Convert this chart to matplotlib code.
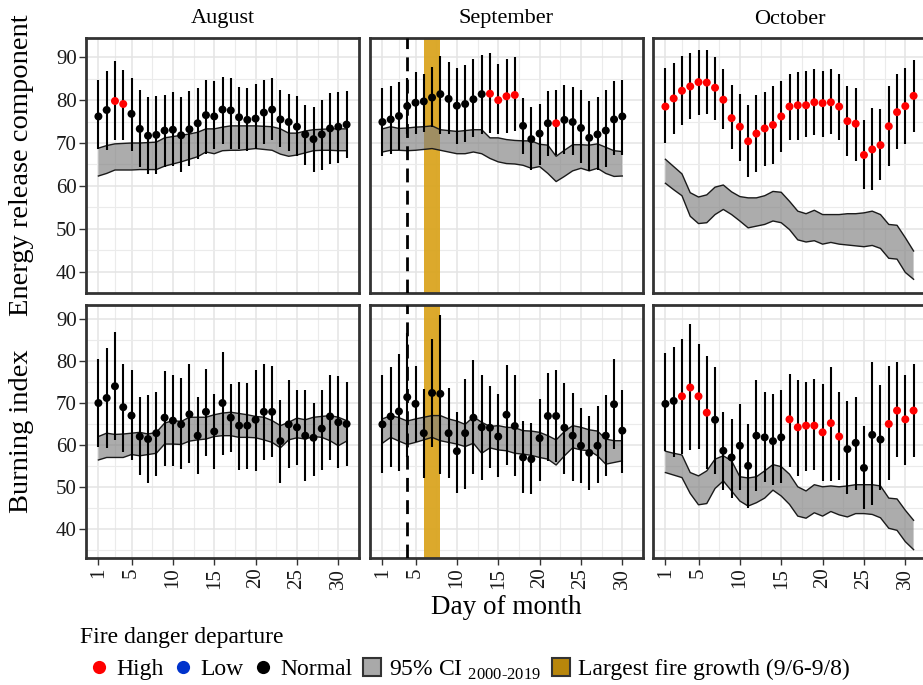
import numpy as np
import matplotlib.pyplot as plt
from matplotlib.lines import Line2D
from matplotlib.patches import Patch

plt.rcParams['font.family'] = ['Liberation Serif', 'DejaVu Serif']
plt.rcParams['mathtext.fontset'] = 'custom'
plt.rcParams['mathtext.rm'] = 'Liberation Serif'

months = ['August', 'September', 'October']
n_days = [31, 30, 31]
x_ticks = [1, 5, 10, 15, 20, 25, 30]
row_titles = ['Energy release component', 'Burning index']

# vertical markers in September
ignition_day = 4
growth_start, growth_end = 6, 8

# ---- Energy release component ----
aug_erc_mean = [76.2, 77.7, 79.8, 79.1, 76.8, 73.3, 71.7, 71.9, 72.9, 73.1, 71.8, 73.2, 74.6, 76.5, 76.2, 77.8,
                77.6, 76.0, 75.4, 75.7, 77.1, 77.8, 75.5, 74.9, 73.8, 72.0, 70.9, 72.0, 73.4, 73.8, 74.3]
aug_erc_hi = [84.6, 86.8, 89.2, 87.0, 85.2, 82.3, 80.8, 80.9, 81.2, 82.0, 80.8, 82.2, 82.9, 84.6, 84.5, 85.4,
              85.2, 83.1, 82.9, 83.7, 84.6, 85.2, 82.3, 81.4, 80.9, 78.9, 78.5, 80.0, 81.7, 82.0, 82.2]
aug_erc_lo = [68.7, 68.3, 70.8, 70.8, 68.2, 64.5, 62.8, 62.8, 64.3, 64.6, 63.3, 64.6, 66.2, 67.4, 68.7, 69.8,
              68.7, 68.7, 68.2, 68.5, 69.8, 70.6, 69.1, 68.2, 66.9, 64.8, 63.3, 63.7, 65.2, 65.4, 66.4]
aug_erc_ci_hi = [68.8, 69.4, 69.8, 69.9, 70.0, 70.0, 70.1, 70.2, 71.2, 71.5, 71.8, 72.1, 72.5, 73.3, 73.3, 73.7,
                 74.0, 74.0, 74.0, 74.0, 73.9, 73.8, 73.3, 72.3, 72.3, 72.8, 73.1, 73.2, 73.3, 73.3, 73.3]
aug_erc_ci_lo = [62.3, 62.9, 63.7, 63.7, 63.7, 63.8, 63.8, 63.8, 64.6, 65.1, 65.6, 66.2, 66.8, 67.9, 67.5, 68.2,
                 68.3, 68.3, 68.5, 68.7, 68.5, 68.3, 67.4, 66.9, 67.2, 67.7, 68.2, 68.3, 68.3, 68.2, 68.2]
aug_erc_flag = "NNHHNNNNNNNNNNNNNNNNNNNNNNNNNNN"

sep_erc_mean = [74.9, 75.5, 76.3, 78.6, 79.4, 79.7, 80.6, 81.4, 80.3, 78.7, 79.1, 80.2, 81.4, 81.5, 80.0,
                80.9, 81.2, 74.0, 70.9, 72.2, 74.6, 74.6, 75.4, 74.9, 73.5, 71.2, 72.0, 72.9, 75.5, 76.2]
sep_erc_hi = [82.8, 83.3, 84.3, 85.2, 86.6, 86.2, 87.7, 90.2, 88.9, 87.5, 88.2, 89.5, 90.6, 91.0, 88.5,
              89.7, 90.0, 80.6, 78.5, 79.2, 82.2, 82.3, 83.5, 83.1, 82.3, 79.7, 80.8, 82.3, 84.5, 84.6]
sep_erc_lo = [66.9, 67.4, 68.3, 72.0, 72.2, 72.5, 73.7, 72.2, 72.2, 69.8, 70.2, 71.4, 72.2, 72.3, 72.2,
              72.3, 72.9, 67.4, 63.7, 64.8, 66.9, 67.2, 67.4, 67.2, 65.4, 63.5, 63.8, 64.5, 67.2, 67.2]
sep_erc_ci_hi = [73.3, 73.8, 73.4, 73.5, 73.7, 73.8, 74.0, 73.1, 72.9, 72.7, 72.9, 73.1, 73.1, 71.2, 71.2,
                 70.8, 70.6, 70.5, 70.5, 69.7, 69.5, 66.9, 68.3, 69.6, 69.6, 69.5, 69.8, 69.0, 68.2, 68.0]
sep_erc_ci_lo = [67.9, 68.3, 68.3, 68.2, 68.3, 68.5, 68.7, 68.3, 67.9, 67.5, 67.5, 67.9, 67.5, 66.4, 65.6,
                 65.2, 65.1, 64.8, 64.1, 64.5, 62.9, 61.0, 62.2, 63.5, 64.1, 63.5, 64.1, 62.9, 62.2, 62.3]
sep_erc_flag = "NNNNNNNNNNNNNHHHHNNNNHNNNNNNNN"

oct_erc_mean = [78.5, 80.4, 82.2, 83.2, 84.2, 84.1, 82.9, 80.1, 75.8, 73.8, 70.4, 72.2, 73.4, 74.2, 76.2, 78.5,
                78.8, 78.8, 79.5, 79.3, 79.5, 78.5, 75.1, 74.5, 67.2, 68.5, 69.5, 73.9, 77.2, 78.6, 81.0]
oct_erc_hi = [87.5, 88.7, 90.2, 91.0, 91.8, 91.8, 90.0, 87.2, 83.5, 81.5, 78.9, 81.2, 82.0, 83.2, 84.5, 86.2,
              86.6, 86.8, 87.2, 86.9, 87.3, 86.0, 83.3, 82.8, 75.4, 78.2, 77.9, 83.3, 86.2, 87.4, 89.4]
oct_erc_lo = [70.0, 72.0, 74.3, 75.5, 76.6, 76.8, 75.4, 73.3, 68.5, 65.8, 62.0, 63.3, 64.7, 65.2, 67.9, 70.6,
              70.8, 71.4, 71.8, 71.5, 72.2, 70.8, 66.9, 65.8, 59.2, 59.1, 61.4, 64.6, 68.5, 69.8, 72.5]
oct_erc_ci_hi = [66.2, 64.5, 62.8, 58.4, 57.4, 57.9, 59.7, 60.2, 58.6, 57.5, 57.2, 57.2, 57.7, 58.7, 58.5, 56.4,
                 54.1, 53.5, 54.3, 53.3, 53.3, 53.3, 53.5, 53.5, 53.7, 54.1, 53.3, 51.0, 50.8, 47.9, 44.8]
oct_erc_ci_lo = [60.6, 59.1, 57.7, 52.9, 51.2, 51.4, 53.3, 54.5, 53.3, 51.8, 50.2, 50.6, 51.0, 51.8, 51.4, 49.8,
                 47.4, 46.9, 47.2, 46.4, 46.8, 46.4, 46.2, 46.0, 45.8, 46.1, 45.4, 43.1, 42.9, 39.8, 38.2]
oct_erc_flag = "HHHHHHHHHHHHHHHHHHHHHHHHHHHHHHH"

# ---- Burning index ----
aug_bi_mean = [70.0, 71.2, 74.0, 69.0, 67.0, 62.0, 61.4, 62.8, 66.5, 65.8, 64.9, 67.3, 62.2, 67.9, 63.2, 70.0,
               66.5, 64.6, 64.6, 66.0, 67.9, 67.9, 60.9, 64.9, 64.2, 62.2, 61.7, 63.9, 66.8, 65.4, 65.0]
aug_bi_hi = [80.4, 83.2, 87.0, 79.4, 77.8, 71.4, 71.8, 72.6, 77.7, 76.6, 76.0, 79.4, 71.4, 78.2, 72.2, 82.2,
             74.6, 75.0, 74.8, 77.8, 79.3, 78.8, 70.8, 75.4, 73.2, 73.0, 70.0, 73.2, 76.6, 76.4, 75.1]
aug_bi_lo = [59.4, 59.2, 61.2, 58.2, 56.4, 52.9, 51.0, 52.6, 55.0, 55.0, 54.2, 55.6, 53.0, 57.4, 54.2, 57.7,
             58.2, 54.0, 54.2, 53.7, 56.4, 57.0, 50.8, 54.6, 55.3, 51.3, 52.6, 54.0, 56.4, 54.6, 55.0]
aug_bi_ci_hi = [62.0, 62.8, 62.5, 62.6, 62.8, 63.0, 62.6, 63.0, 65.2, 65.8, 65.6, 66.6, 66.6, 66.6, 67.2, 67.6,
                67.8, 67.5, 67.2, 66.8, 66.6, 65.8, 64.6, 65.4, 66.4, 66.0, 66.6, 66.8, 67.0, 66.6, 65.8]
aug_bi_ci_lo = [56.4, 57.0, 57.0, 57.0, 57.7, 57.4, 57.7, 58.0, 60.2, 60.2, 60.1, 60.9, 61.2, 61.4, 62.0, 62.2,
                62.2, 61.8, 61.8, 61.7, 61.2, 60.6, 59.3, 61.2, 61.7, 61.4, 62.0, 61.8, 61.0, 59.8, 60.9]
aug_bi_flag = "NNNNNNNNNNNNNNNNNNNNNNNNNNNNNNN"

sep_bi_mean = [64.9, 66.8, 68.0, 71.4, 69.8, 62.8, 72.4, 72.2, 62.8, 58.5, 62.8, 66.5, 64.2, 64.1, 62.0,
               67.2, 64.5, 57.0, 56.6, 61.6, 66.9, 66.9, 64.1, 62.2, 59.8, 58.1, 59.8, 62.2, 69.7, 63.4]
sep_bi_hi = [76.6, 78.6, 81.8, 86.6, 78.8, 73.4, 85.2, 91.0, 73.7, 67.8, 75.8, 80.2, 76.6, 74.0, 72.2,
             79.0, 76.6, 65.8, 65.2, 71.0, 77.2, 78.0, 74.8, 72.4, 68.9, 66.8, 69.4, 71.8, 80.4, 73.0]
sep_bi_lo = [53.4, 54.8, 53.8, 57.0, 60.6, 52.1, 59.4, 53.0, 52.1, 48.4, 49.4, 53.0, 51.6, 54.6, 52.4,
             55.3, 52.6, 48.4, 48.2, 51.4, 56.2, 55.8, 53.0, 51.4, 51.0, 49.2, 51.0, 52.6, 59.0, 53.2]
sep_bi_ci_hi = [66.2, 67.0, 66.5, 65.7, 66.2, 66.6, 67.0, 67.0, 66.2, 65.7, 64.9, 66.7, 65.4, 64.4, 64.6,
                64.2, 64.1, 63.4, 63.3, 63.0, 62.2, 61.2, 63.2, 64.6, 64.2, 63.6, 63.3, 61.4, 61.0, 61.0]
sep_bi_ci_lo = [60.4, 61.8, 60.9, 60.1, 60.6, 61.2, 61.8, 61.0, 60.6, 60.2, 59.6, 60.4, 58.0, 59.3, 58.8,
                58.6, 58.0, 57.8, 57.5, 57.0, 56.6, 55.2, 57.4, 59.3, 58.8, 58.6, 57.4, 55.4, 55.8, 56.2]
sep_bi_flag = "NNNNNNNNNNNNNNNNNNNNNNNNNNNNNN"

oct_bi_mean = [69.8, 70.5, 71.6, 73.7, 71.6, 67.7, 66.0, 58.6, 57.0, 59.8, 55.0, 62.2, 61.8, 60.9, 61.8, 66.1,
               64.2, 64.6, 64.6, 63.0, 65.2, 62.0, 59.0, 60.5, 54.5, 62.4, 61.3, 65.0, 68.2, 66.1, 68.2]
oct_bi_hi = [82.0, 83.3, 85.4, 88.9, 84.2, 81.2, 78.6, 67.8, 66.2, 69.7, 64.9, 75.4, 72.6, 72.2, 73.0, 77.0,
             75.6, 75.0, 75.8, 74.6, 78.6, 72.6, 70.5, 71.4, 64.4, 79.8, 74.4, 78.8, 79.8, 76.6, 79.4]
oct_bi_lo = [58.5, 57.2, 57.8, 58.8, 59.0, 54.2, 53.0, 49.2, 47.4, 49.2, 45.0, 49.0, 51.2, 50.5, 50.8, 54.8,
             52.6, 53.8, 54.0, 51.4, 51.4, 51.6, 48.2, 49.2, 44.6, 45.7, 49.2, 51.6, 57.2, 55.3, 57.0]
oct_bi_ci_hi = [58.5, 58.0, 57.6, 53.4, 52.6, 53.8, 56.6, 57.4, 56.2, 52.4, 52.1, 52.4, 53.8, 55.3, 54.8, 53.0,
                50.0, 49.0, 50.5, 50.0, 50.2, 50.0, 50.2, 50.5, 50.5, 50.5, 50.2, 47.3, 47.1, 44.4, 42.0]
oct_bi_ci_lo = [53.4, 52.8, 52.2, 48.4, 45.7, 46.0, 49.6, 51.4, 49.0, 46.6, 45.4, 46.2, 47.3, 49.2, 47.8, 45.8,
                43.0, 42.5, 43.8, 43.0, 44.1, 43.3, 42.8, 43.6, 43.6, 43.4, 42.6, 40.1, 39.6, 36.9, 35.0]
oct_bi_flag = "NNHHHHNNNNNNNNNHHHHHHHNNNNNHHHH"

panels = [
    [(aug_erc_mean, aug_erc_lo, aug_erc_hi, aug_erc_ci_lo, aug_erc_ci_hi, aug_erc_flag),
     (sep_erc_mean, sep_erc_lo, sep_erc_hi, sep_erc_ci_lo, sep_erc_ci_hi, sep_erc_flag),
     (oct_erc_mean, oct_erc_lo, oct_erc_hi, oct_erc_ci_lo, oct_erc_ci_hi, oct_erc_flag)],
    [(aug_bi_mean, aug_bi_lo, aug_bi_hi, aug_bi_ci_lo, aug_bi_ci_hi, aug_bi_flag),
     (sep_bi_mean, sep_bi_lo, sep_bi_hi, sep_bi_ci_lo, sep_bi_ci_hi, sep_bi_flag),
     (oct_bi_mean, oct_bi_lo, oct_bi_hi, oct_bi_ci_lo, oct_bi_ci_hi, oct_bi_flag)],
]
row_ylims = [(35.75, 94.5), (33.0, 93.4)]

flag_colors = {'H': '#ff0000', 'L': '#0033cc', 'N': 'black'}

W, H = 923, 685
fig = plt.figure(figsize=(W / 100, H / 100), dpi=100)

col_left = [86, 370, 653]
col_w = 273
row_top = [38, 305]
row_h = [255, 253]

for r in range(2):
    for c in range(3):
        ax = fig.add_axes([col_left[c] / W, 1 - (row_top[r] + row_h[r]) / H, col_w / W, row_h[r] / H])
        mean, lo, hi, ci_lo, ci_hi, flag = panels[r][c]
        days = np.arange(1, n_days[c] + 1)

        if c == 1:
            ax.axvspan(growth_start, growth_end, color='goldenrod', alpha=0.95, lw=0, zorder=1)
            ax.axvline(ignition_day, color='black', lw=2.0, ls=(0, (5, 3)), zorder=3.5)

        ax.fill_between(days, ci_lo, ci_hi, facecolor='#808080', alpha=0.65, lw=0, zorder=2)
        ax.plot(days, ci_hi, color='#1a1a1a', lw=1.0, zorder=2.5)
        ax.plot(days, ci_lo, color='#1a1a1a', lw=1.0, zorder=2.5)
        ax.vlines(days, lo, hi, color='black', lw=1.5, zorder=3)
        ax.scatter(days, mean, s=33, c=[flag_colors[f] for f in flag], lw=0, zorder=4)

        ax.set_xlim(-0.5, 32.5)
        ax.set_ylim(*row_ylims[r])
        ax.set_xticks(x_ticks)
        ax.set_xticks([3, 7.5, 12.5, 17.5, 22.5, 27.5], minor=True)
        ax.set_yticks([40, 50, 60, 70, 80, 90])
        ax.set_yticks([35, 45, 55, 65, 75, 85], minor=True)
        ax.set_axisbelow(True)
        ax.grid(True, which='major', color='#e4e4e4', lw=1.1)
        ax.grid(True, which='minor', color='#ebebeb', lw=0.8)
        for s in ax.spines.values():
            s.set_linewidth(2.0)
            s.set_color('#333333')

        ax.tick_params(which='minor', length=0)
        ax.tick_params(which='major', direction='out', color='#333333', width=1.0,
                       labelsize=15, labelcolor='#1a1a1a')
        ax.tick_params(axis='y', length=5, pad=1.5)
        ax.tick_params(axis='x', length=5, pad=2, labelrotation=90)
        if r == 0:
            ax.tick_params(axis='x', length=0, labelbottom=False)
            ax.text(0.5, 1 + 19 / row_h[r], months[c], transform=ax.transAxes,
                    ha='center', va='center', fontsize=16)
        if c > 0:
            ax.tick_params(axis='y', length=0, labelleft=False)

for r in range(2):
    yc = row_top[r] + row_h[r] / 2
    fig.text(22 / W, 1 - yc / H, row_titles[r], rotation=90, ha='center', va='center', fontsize=20.5)

fig.text(506 / W, 1 - 607 / H, 'Day of month', ha='center', va='center', fontsize=19.5)

fig.text(80 / W, 1 - 637 / H, 'Fire danger departure', ha='left', va='center', fontsize=17)
handles = [
    Line2D([0], [0], marker='o', ls='none', markersize=9.5, markerfacecolor=flag_colors['H'], markeredgewidth=0),
    Line2D([0], [0], marker='o', ls='none', markersize=9.5, markerfacecolor=flag_colors['L'], markeredgewidth=0),
    Line2D([0], [0], marker='o', ls='none', markersize=9.5, markerfacecolor=flag_colors['N'], markeredgewidth=0),
    Patch(facecolor='#a9a9a9', edgecolor='#333333', lw=1.5),
    Patch(facecolor='darkgoldenrod', edgecolor='#333333', lw=1.5),
]
labels = ['High', 'Low', 'Normal', '95% CI $_{\\mathrm{2000\u20102019}}$', 'Largest fire growth (9/6-9/8)']
fig.legend(handles, labels, loc='center left', bbox_to_anchor=(90 / W, 1 - 670 / H), ncol=5,
           frameon=False, fontsize=17, handlelength=0.76, handleheight=0.76, handletextpad=0.35,
           columnspacing=0.45, borderpad=0, borderaxespad=0)

fig.savefig('out.png', dpi=100)
